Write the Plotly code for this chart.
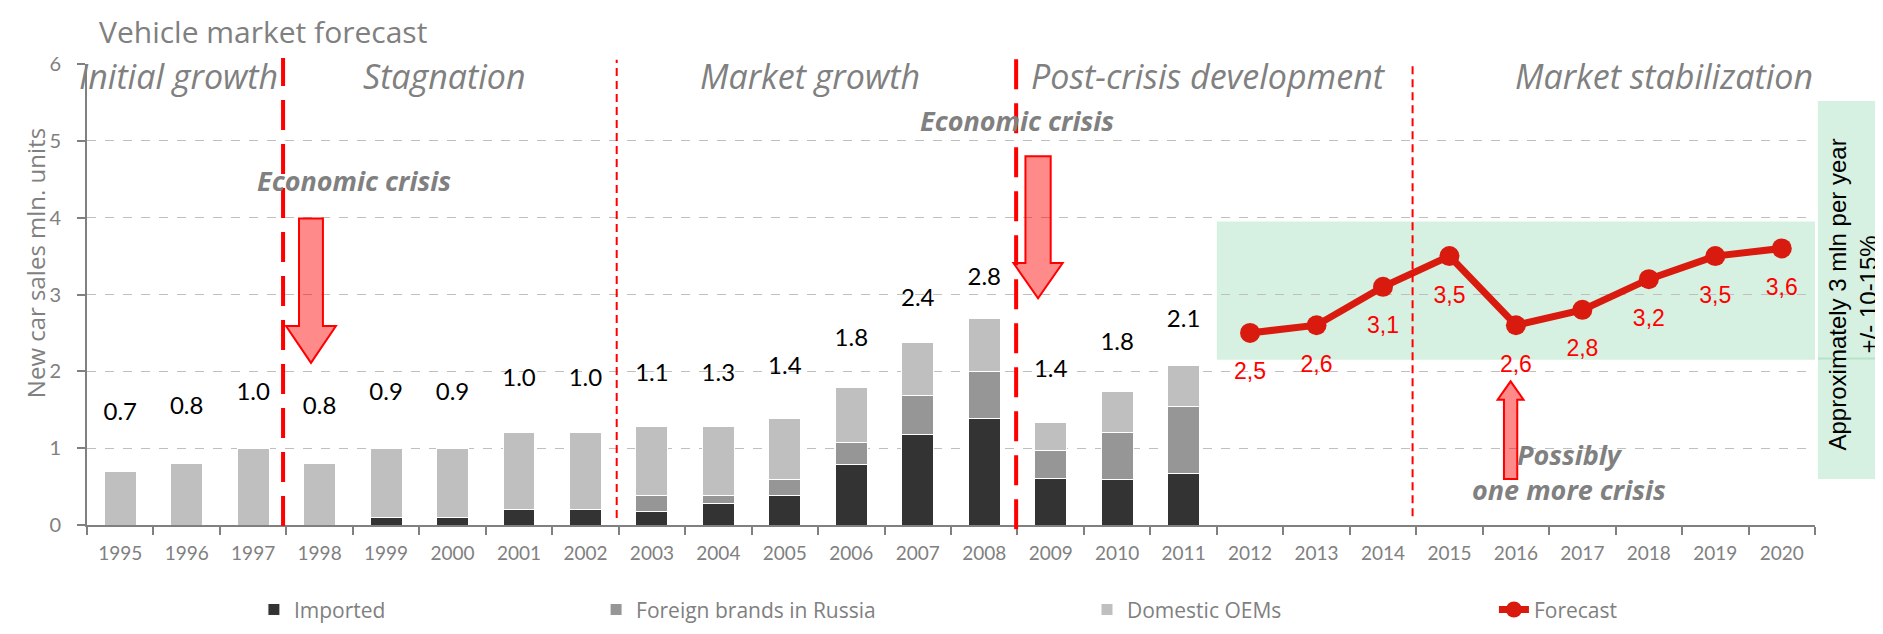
import plotly.graph_objects as go

# ------------------------------------------------------------------ data
years = [str(y) for y in range(1995, 2021)]
hist_years = years[:17]
fcst_years = years[17:]

imported = [0, 0, 0, 0, 0.1, 0.1, 0.2, 0.2, 0.18, 0.28, 0.38, 0.79, 1.18, 1.38, 0.61, 0.59, 0.67]
foreign = [0, 0, 0, 0, 0, 0, 0, 0, 0.2, 0.1, 0.21, 0.29, 0.51, 0.62, 0.36, 0.62, 0.87]
domestic = [0.7, 0.8, 1.0, 0.8, 0.9, 0.9, 1.0, 1.0, 0.9, 0.9, 0.8, 0.71, 0.69, 0.69, 0.37, 0.53, 0.53]
total_labels = ['0.7', '0.8', '1.0', '0.8', '0.9', '0.9', '1.0', '1.0', '1.1',
                '1.3', '1.4', '1.8', '2.4', '2.8', '1.4', '1.8', '2.1']

forecast = [2.5, 2.6, 3.1, 3.5, 2.6, 2.8, 3.2, 3.5, 3.6]

phase_names = ['Initial growth', 'Stagnation', 'Market growth',
               'Post-crisis development', 'Market stabilization']
phase_starts = ['1995', '1998', '2003', '2009', '2015']

# ------------------------------------------------------------------ colours
c_imp = '#333333'
c_for = '#969696'
c_dom = '#bfbfbf'
c_line = 'rgb(217, 26, 14)'
c_red = '#ff0000'
c_gray = '#808080'
c_green = '#d6f1e1'
c_arrow = 'rgba(255, 0, 0, 0.46)'

totals = [a + b + c for a, b, c in zip(imported, foreign, domestic)]

fig = go.Figure()

bar_line = dict(color='white', width=1)
fig.add_bar(x=hist_years, y=imported, name='Imported', marker=dict(color=c_imp, line=bar_line),
            width=0.48, legend='legend')
fig.add_bar(x=hist_years, y=foreign, name='Foreign brands in Russia', marker=dict(color=c_for, line=bar_line),
            width=0.48, legend='legend2')
fig.add_bar(x=hist_years, y=domestic, name='Domestic OEMs', marker=dict(color=c_dom, line=bar_line),
            width=0.48, legend='legend3')

# total labels floating above the bars
fig.add_scatter(x=hist_years, y=[0.82 + 0.884 * t for t in totals], text=total_labels, mode='text',
                textfont=dict(family='Lato', size=24, color='black'),
                showlegend=False, hoverinfo='skip', cliponaxis=False)

fig.add_scatter(x=fcst_years, y=forecast, name='Forecast', mode='lines+markers',
                line=dict(color=c_line, width=7), marker=dict(color=c_line, size=20),
                legend='legend4')
fig.add_scatter(x=fcst_years, y=[v - 0.53 for v in forecast],
                text=[f'{v:.1f}'.replace('.', ',') for v in forecast], mode='text',
                textfont=dict(family='Liberation Sans', size=23, color=c_red),
                showlegend=False, hoverinfo='skip', cliponaxis=False)

# ------------------------------------------------------------------ shapes
shapes = []
# forecast corridor
shapes.append(dict(type='rect', xref='x', yref='y', x0=16.5, x1=25.5, y0=2.15, y1=3.95,
                   fillcolor=c_green, line_width=0, layer='below'))
# right side box
shapes.append(dict(type='rect', xref='paper', yref='paper', x0=1.0017, x1=1.0417, y0=0.0996, y1=0.9197,
                   fillcolor=c_green, line_width=0, layer='below'))
shapes.append(dict(type='line', xref='paper', yref='paper', x0=1.0017, x1=1.0417, y0=0.361, y1=0.361,
                   line=dict(color='#b5e4c8', width=2)))

# period separators
idx = {y: i for i, y in enumerate(years)}
sep_thick = dict(color=c_red, width=4, dash='30px,14px')
sep_thin = dict(color=c_red, width=2, dash='8px,5px')
shapes.append(dict(type='line', xref='x', yref='paper', x0=idx['1998'] - 0.55, x1=idx['1998'] - 0.55,
                   y0=-0.002, y1=1.013, line=sep_thick))
shapes.append(dict(type='line', xref='x', yref='paper', x0=idx['2003'] - 0.53, x1=idx['2003'] - 0.53,
                   y0=0.015, y1=1.009, line=sep_thin))
shapes.append(dict(type='line', xref='x', yref='paper', x0=idx['2009'] - 0.52, x1=idx['2009'] - 0.52,
                   y0=-0.009, y1=1.017, line=sep_thick))
shapes.append(dict(type='line', xref='x', yref='paper', x0=idx['2015'] - 0.555, x1=idx['2015'] - 0.555,
                   y0=0.019, y1=0.996, line=sep_thin))


def block_arrow(xc, y_tail, y_tip, shaft_w, head_w, head_len):
    s = 1 if y_tip > y_tail else -1
    yb = y_tip - s * head_len
    p = (f'M {xc - shaft_w / 2} {y_tail} L {xc + shaft_w / 2} {y_tail} '
         f'L {xc + shaft_w / 2} {yb} L {xc + head_w / 2} {yb} L {xc} {y_tip} '
         f'L {xc - head_w / 2} {yb} L {xc - shaft_w / 2} {yb} Z')
    return dict(type='path', xref='x', yref='y', path=p, fillcolor=c_arrow,
                line=dict(color=c_red, width=2), layer='above')


shapes.append(block_arrow(2.87, 3.99, 2.11, 0.36, 0.75, 0.48))
shapes.append(block_arrow(13.81, 4.8, 2.95, 0.38, 0.74, 0.46))
shapes.append(block_arrow(20.92, 0.6, 1.87, 0.2, 0.39, 0.24))

# ------------------------------------------------------------------ annotations
ann = []
bounds = [idx[s] - 0.5 for s in phase_starts] + [len(years) - 0.5]
for i, name in enumerate(phase_names):
    last = i == len(phase_names) - 1
    ann.append(dict(xref='x', yref='y', x=bounds[i + 1] if last else (bounds[i] + bounds[i + 1]) / 2,
                    xanchor='right' if last else 'center', xshift=0 if last else -8,
                    yanchor='middle', y=5.84, text=name, showarrow=False,
                    font=dict(family='Open Sans', size=34, color=c_gray, style='italic')))

crisis_font = dict(family='Open Sans', size=27, color=c_gray, style='italic', weight='bold')
ann.append(dict(xref='x', yref='y', x=3.52, y=4.49, text='Economic crisis', showarrow=False, font=crisis_font))
ann.append(dict(xref='x', yref='y', x=13.5, y=5.27, text='Economic crisis', showarrow=False, font=crisis_font))
ann.append(dict(xref='x', yref='y', x=21.8, y=0.69, text='Possibly<br>one more crisis',
                showarrow=False, font=crisis_font))

# side note, one rotated annotation per line so each stays centred
side_font = dict(family='Liberation Sans', size=24, color='black')
ann.append(dict(xref='paper', yref='paper', x=1.0133, y=0.5, xanchor='center', yanchor='middle',
                textangle=-90, text='Approximately 3 mln per year', showarrow=False, font=side_font))
ann.append(dict(xref='paper', yref='paper', x=1.0312, y=0.5, xanchor='center', yanchor='middle',
                textangle=-90, text='+/- 10-15%', showarrow=False, font=side_font))

ann.append(dict(xref='paper', yref='y', x=-0.03, y=3.41, xanchor='center', yanchor='middle',
                textangle=-90, text='New car sales mln. units', showarrow=False,
                font=dict(family='Open Sans', size=24, color=c_gray)))

# ------------------------------------------------------------------ layout
leg = dict(orientation='h', yanchor='middle', y=-0.184, xanchor='left',
           font=dict(family='Open Sans', size=21, color=c_gray), bgcolor='rgba(0,0,0,0)')

fig.update_layout(
    width=1883, height=634,
    margin=dict(l=79, r=76, t=56, b=110),
    paper_bgcolor='white', plot_bgcolor='white',
    barmode='stack',
    title=dict(text='Vehicle market forecast', x=91 / 1883, xanchor='left', xref='container',
               y=1 - 24 / 634, yanchor='middle', yref='container',
               font=dict(family='Open Sans', size=30, color=c_gray)),
    shapes=shapes,
    annotations=ann,
    legend=dict(leg, x=0.0966),
    legend2=dict(leg, x=0.2946),
    legend3=dict(leg, x=0.5787),
    legend4=dict(leg, x=0.8142),
)

fig.update_xaxes(type='category', categoryorder='array', categoryarray=years,
                 range=[-0.5, 25.5], tickson='boundaries', ticks='outside', ticklen=8,
                 tickcolor=c_gray, tickwidth=1.5, showline=True, linecolor=c_gray, linewidth=2,
                 showgrid=False, ticklabelstandoff=10, automargin=False,
                 tickfont=dict(family='Lato', size=19, color=c_gray))
fig.update_yaxes(range=[0, 6], dtick=1, ticks='outside', ticklen=8, tickcolor=c_gray, tickwidth=1.5,
                 showline=True, linecolor=c_gray, linewidth=2, zeroline=False,
                 showgrid=True, gridcolor='#bfbfbf', gridwidth=1.3, griddash='dash',
                 ticklabelstandoff=12, automargin=False,
                 tickfont=dict(family='Lato', size=20, color=c_gray))

fig.write_html('out.html')
